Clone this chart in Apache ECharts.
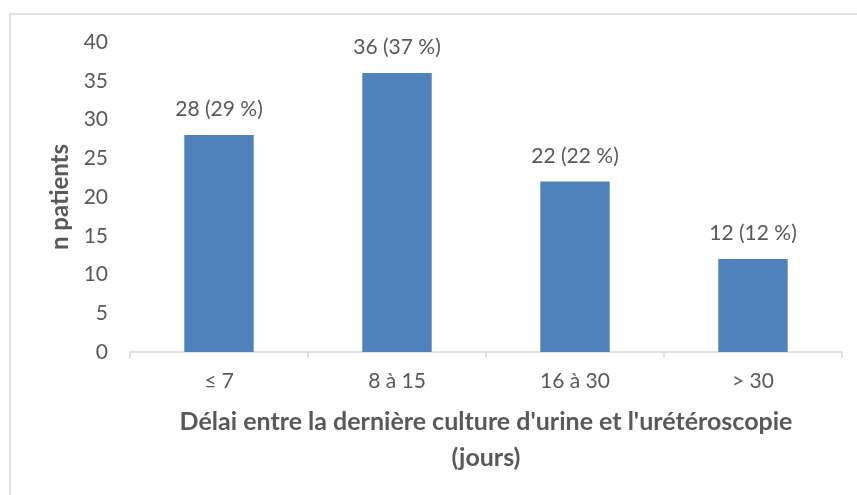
<!DOCTYPE html>
<html>
<head>
<meta charset="utf-8">
<script src="https://cdn.jsdelivr.net/npm/echarts@6/dist/echarts.min.js"></script>
<style>
html,body{margin:0;padding:0;background:#fff;}
#chart{width:857px;height:495px;}
</style>
</head>
<body>
<div id="chart"></div>
<script>
const categories = ['≤ 7', '8 à 15', '16 à 30', '> 30'];
const counts = [28, 36, 22, 12];
const percents = [29, 37, 22, 12];
const yTicks = { min: 0, max: 40, interval: 5 };
const yTitle = 'n patients';
const xTitle = "Délai entre la dernière culture d'urine et l'urétéroscopie\n(jours)";

const chart = echarts.init(document.getElementById('chart'));
const textColor = '#595959';
const font = 'Lato, "Open Sans", sans-serif';
chart.setOption({
  animation: false,
  backgroundColor: '#ffffff',
  graphic: [{
    type: 'rect',
    shape: { x: 10, y: 14, width: 1000, height: 1000 },
    style: { fill: 'none', stroke: '#d9d9d9', lineWidth: 1.5 },
    silent: true
  }],
  grid: { left: 130, right: 15, top: 42, bottom: 143 },
  xAxis: {
    type: 'category',
    data: categories,
    boundaryGap: true,
    axisLine: { show: true, lineStyle: { color: '#d9d9d9', width: 1.5 } },
    axisTick: { show: true, alignWithLabel: false, length: 6, lineStyle: { color: '#d9d9d9', width: 1.5 } },
    axisLabel: { color: textColor, fontFamily: font, fontSize: 21, margin: 19 },
    name: xTitle,
    nameLocation: 'middle',
    nameGap: 52,
    nameTextStyle: { color: textColor, fontFamily: font, fontSize: 25, fontWeight: 'bold', lineHeight: 36 }
  },
  yAxis: {
    type: 'value',
    min: yTicks.min,
    max: yTicks.max,
    interval: yTicks.interval,
    splitLine: { show: false },
    axisLine: { show: false },
    axisTick: { show: false },
    axisLabel: { color: textColor, fontFamily: font, fontSize: 21, margin: 22 },
    name: yTitle,
    nameLocation: 'middle',
    nameGap: 55,
    nameTextStyle: { color: textColor, fontFamily: font, fontSize: 24, fontWeight: 'bold' }
  },
  series: [{
    type: 'bar',
    data: counts,
    barWidth: '39%',
    itemStyle: { color: '#4F81BD' },
    label: {
      show: true,
      position: 'top',
      distance: 15,
      color: textColor,
      fontFamily: font,
      fontSize: 21,
      formatter: p => p.value + ' (' + percents[p.dataIndex] + ' %)'
    }
  }]
});
</script>
</body>
</html>
